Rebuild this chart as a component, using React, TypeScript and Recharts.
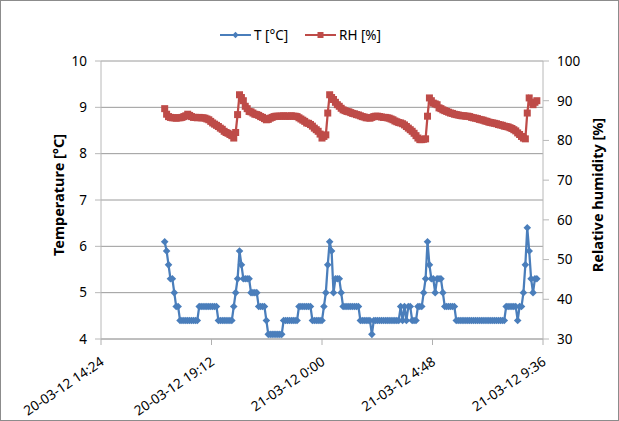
import { ComposedChart, Line, XAxis, YAxis, CartesianGrid } from "recharts";

// logger samples, every 5 minutes starting at 20-03-12 17:10
const firstSample = "20-03-12 17:10";
const sampleStepMinutes = 5;

const temperature = [
  6.1, 5.9, 5.6, 5.3, 5.3, 5.0, 4.7, 4.7, 4.4, 4.4, 4.4, 4.4,
  4.4, 4.4, 4.4, 4.4, 4.4, 4.4, 4.7, 4.7, 4.7, 4.7, 4.7, 4.7,
  4.7, 4.7, 4.7, 4.7, 4.4, 4.4, 4.4, 4.4, 4.4, 4.4, 4.4, 4.4,
  4.7, 5.0, 5.3, 5.9, 5.6, 5.3, 5.3, 5.3, 5.3, 5.0, 5.0, 5.0,
  5.0, 4.7, 4.7, 4.7, 4.7, 4.4, 4.1, 4.1, 4.1, 4.1, 4.1, 4.1,
  4.1, 4.1, 4.4, 4.4, 4.4, 4.4, 4.4, 4.4, 4.4, 4.4, 4.7, 4.7,
  4.7, 4.7, 4.7, 4.7, 4.7, 4.4, 4.4, 4.4, 4.4, 4.4, 4.4, 4.7,
  5.0, 5.6, 6.1, 5.9, 5.0, 5.3, 5.3, 5.3, 5.0, 4.7, 4.7, 4.7,
  4.7, 4.7, 4.7, 4.7, 4.7, 4.7, 4.4, 4.4, 4.4, 4.4, 4.4, 4.4,
  4.1, 4.4, 4.4, 4.4, 4.4, 4.4, 4.4, 4.4, 4.4, 4.4, 4.4, 4.4,
  4.4, 4.4, 4.4, 4.7, 4.4, 4.7, 4.4, 4.7, 4.7, 4.4, 4.4, 4.4,
  4.7, 4.7, 4.7, 5.0, 5.3, 6.1, 5.6, 5.3, 5.3, 5.0, 5.3, 5.3,
  5.3, 5.0, 4.7, 4.7, 4.7, 4.7, 4.7, 4.7, 4.4, 4.4, 4.4, 4.4,
  4.4, 4.4, 4.4, 4.4, 4.4, 4.4, 4.4, 4.4, 4.4, 4.4, 4.4, 4.4,
  4.4, 4.4, 4.4, 4.4, 4.4, 4.4, 4.4, 4.4, 4.4, 4.4, 4.7, 4.7,
  4.7, 4.7, 4.7, 4.7, 4.4, 4.7, 4.7, 5.0, 5.6, 6.4, 5.9, 5.3,
  5.0, 5.3, 5.3,
];

const humidity = [
  88.0, 86.6, 86.0, 85.8, 85.7, 85.7, 85.6, 85.7, 85.7, 85.8, 86.0, 86.2,
  86.6, 86.3, 86.0, 85.8, 85.8, 85.7, 85.8, 85.7, 85.7, 85.6, 85.4, 85.2,
  84.8, 84.4, 84.1, 83.8, 83.5, 83.1, 82.8, 82.3, 82.0, 81.8, 81.5, 81.2,
  80.6, 82.0, 86.5, 91.5, 90.8, 90.0, 88.6, 88.0, 87.3, 87.2, 86.9, 86.6,
  86.5, 86.3, 86.0, 85.8, 85.5, 85.2, 85.3, 85.6, 85.8, 86.0, 86.1, 86.1,
  86.1, 86.1, 86.2, 86.1, 86.1, 86.1, 86.2, 86.1, 86.1, 86.0, 85.7, 85.4,
  85.1, 84.8, 84.4, 84.3, 84.0, 83.6, 83.1, 82.7, 82.3, 81.6, 80.6, 81.0,
  81.4, 86.9, 91.5, 90.8, 90.3, 89.6, 89.0, 88.6, 88.1, 87.7, 87.5, 87.3,
  87.2, 87.0, 86.8, 86.7, 86.5, 86.4, 86.2, 86.0, 85.9, 85.7, 85.7, 85.6,
  85.8, 86.0, 86.1, 86.1, 86.0, 85.9, 85.8, 85.8, 85.7, 85.6, 85.4, 85.2,
  84.9, 84.7, 84.5, 84.4, 84.2, 83.9, 83.5, 83.1, 82.7, 82.3, 81.8, 81.2,
  80.6, 80.2, 80.2, 80.3, 80.4, 86.1, 90.7, 90.0, 89.4, 89.2, 89.0, 88.2,
  88.0, 87.7, 87.5, 87.3, 87.1, 86.9, 86.8, 86.6, 86.5, 86.4, 86.3, 86.2,
  86.2, 86.1, 86.1, 86.0, 85.8, 85.7, 85.6, 85.5, 85.3, 85.2, 85.1, 84.9,
  84.8, 84.6, 84.5, 84.4, 84.3, 84.2, 84.0, 83.9, 83.8, 83.6, 83.5, 83.4,
  83.2, 83.0, 82.7, 82.4, 81.9, 81.5, 81.0, 80.6, 80.4, 86.9, 90.7, 89.6,
  89.0, 89.6, 90.0,
];

const timeTicks = [
  "20-03-12 14:24",
  "20-03-12 19:12",
  "21-03-12 0:00",
  "21-03-12 4:48",
  "21-03-12 9:36",
];
const tempTicks = [4, 5, 6, 7, 8, 9, 10];
const rhTicks = [30, 40, 50, 60, 70, 80, 90, 100];

const TEMP_COLOR = "#4A7EBB";
const RH_COLOR = "#BE4B48";
const FONT = "'Noto Sans', sans-serif";

const parseStamp = (s: string) => {
  const [d, t] = s.split(" ");
  const [dd, mm, yy] = d.split("-").map(Number);
  const [hh, mi] = t.split(":").map(Number);
  return Date.UTC(2000 + yy, mm - 1, dd, hh, mi);
};

const pad = (n: number) => String(n).padStart(2, "0");
const formatStamp = (ms: number) => {
  const d = new Date(ms);
  return `${pad(d.getUTCDate())}-${pad(d.getUTCMonth() + 1)}-${pad(
    d.getUTCFullYear() % 100
  )} ${d.getUTCHours()}:${pad(d.getUTCMinutes())}`;
};

const t0 = parseStamp(firstSample);
const data = temperature.map((T, i) => ({
  t: t0 + i * sampleStepMinutes * 60000,
  T,
  RH: humidity[i],
}));
const tickValues = timeTicks.map(parseStamp);

const Diamond = (props: any) => {
  const { cx, cy, index } = props;
  if (cx == null || cy == null) return <g key={`d-${index}`} />;
  const r = 3.8;
  return (
    <path
      key={`d-${index}`}
      d={`M${cx},${cy - r}L${cx + r},${cy}L${cx},${cy + r}L${cx - r},${cy}Z`}
      fill={TEMP_COLOR}
    />
  );
};

const Square = (props: any) => {
  const { cx, cy, index } = props;
  if (cx == null || cy == null) return <g key={`s-${index}`} />;
  return (
    <rect key={`s-${index}`} x={cx - 3.5} y={cy - 3.5} width={7} height={7} fill={RH_COLOR} />
  );
};

const TimeTick = ({ x, y, payload }: any) => (
  <text
    transform={`translate(${x + 4},${y + 17}) rotate(-34)`}
    textAnchor="end"
    fontSize={13.5}
    fontFamily={FONT}
    fill="#000"
  >
    {formatStamp(payload.value)}
  </text>
);

const axisTitle = (text: string, x: number) => (props: any) => {
  const vb = props.viewBox || { y: 61, height: 278 };
  const y = vb.y + vb.height / 2 - 5;
  return (
    <text
      x={x}
      y={y}
      transform={`rotate(-90, ${x}, ${y})`}
      textAnchor="middle"
      dominantBaseline="central"
      fontSize={14.5}
      fontWeight="bold"
      fontFamily={FONT}
      fill="#000"
    >
      {text}
    </text>
  );
};

const LegendBox = () => (
  <svg
    width={619}
    height={421}
    style={{ position: "absolute", left: 0, top: 0, pointerEvents: "none" }}
  >
    <line x1={220} y1={35} x2={251} y2={35} stroke={TEMP_COLOR} strokeWidth={2} />
    <path d="M235.5,31.8L238.7,35L235.5,38.2L232.3,35Z" fill={TEMP_COLOR} />
    <text x={254} y={35} dominantBaseline="central" fontSize={13.5} fontFamily={FONT}>
      T [°C]
    </text>
    <line x1={305} y1={35} x2={336} y2={35} stroke={RH_COLOR} strokeWidth={2} />
    <rect x={317.5} y={32} width={6} height={6} fill={RH_COLOR} />
    <text x={339} y={35} dominantBaseline="central" fontSize={13.5} fontFamily={FONT}>
      RH [%]
    </text>
  </svg>
);

export default function App() {
  return (
    <div
      style={{
        position: "absolute",
        left: 0,
        top: 0,
        width: 619,
        height: 421,
        background: "#fff",
      }}
    >
      <ComposedChart
        width={619}
        height={421}
        data={data}
        margin={{ top: 61, right: 16, bottom: 0, left: 41 }}
      >
        <CartesianGrid
          yAxisId="left"
          vertical={false}
          stroke="#9a9a9a"
          horizontalValues={tempTicks}
        />
        <XAxis
          dataKey="t"
          type="number"
          scale="linear"
          domain={[tickValues[0], tickValues[tickValues.length - 1]]}
          ticks={tickValues}
          allowDataOverflow
          height={82}
          tickSize={6}
          stroke="#b0b0b0"
          tick={<TimeTick />}
          interval={0}
        />
        <YAxis
          yAxisId="left"
          domain={[4, 10]}
          ticks={tempTicks}
          allowDataOverflow
          width={60}
          tickSize={6}
          tickMargin={8}
          stroke="#b8b8b8"
          tick={{ fill: "#000", fontSize: 13.5, fontFamily: FONT }}
          label={axisTitle("Temperature [°C]", 58)}
        />
        <YAxis
          yAxisId="right"
          orientation="right"
          domain={[30, 100]}
          ticks={rhTicks}
          allowDataOverflow
          width={60}
          tickSize={6}
          tickMargin={8}
          stroke="#b8b8b8"
          tick={{ fill: "#000", fontSize: 13.5, fontFamily: FONT }}
          label={axisTitle("Relative humidity [%]", 597)}
        />
        <Line
          yAxisId="left"
          type="linear"
          dataKey="T"
          stroke={TEMP_COLOR}
          strokeWidth={2.25}
          dot={Diamond}
          activeDot={false}
          isAnimationActive={false}
        />
        <Line
          yAxisId="right"
          type="linear"
          dataKey="RH"
          stroke={RH_COLOR}
          strokeWidth={2.25}
          dot={Square}
          activeDot={false}
          isAnimationActive={false}
        />
      </ComposedChart>
      <LegendBox />
      <div
        style={{
          position: "absolute",
          left: 0,
          top: 0,
          width: 619,
          height: 421,
          boxSizing: "border-box",
          border: "1px solid #8c8c8c",
          pointerEvents: "none",
        }}
      />
    </div>
  );
}
